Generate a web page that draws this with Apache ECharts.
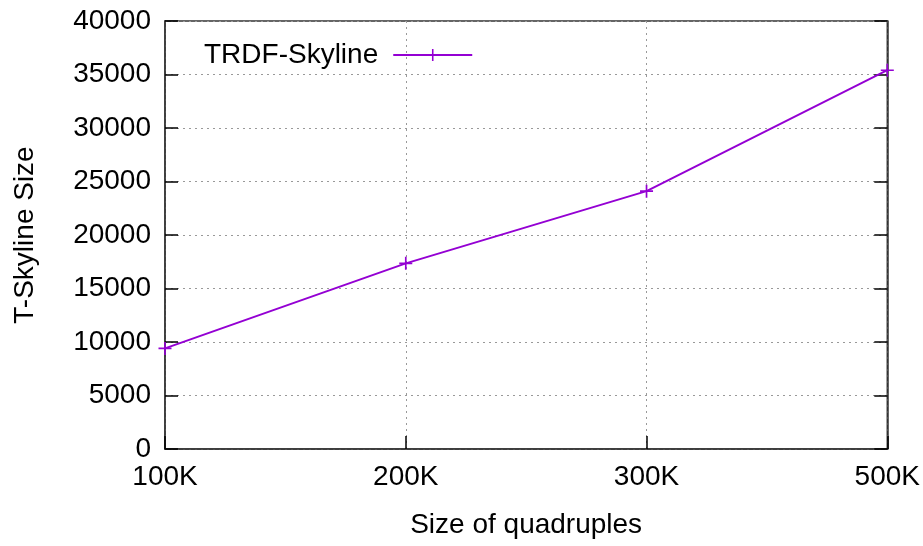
<!DOCTYPE html>
<html>
<head>
<meta charset="utf-8">
<script src="https://cdn.jsdelivr.net/npm/echarts@6/dist/echarts.min.js"></script>
<style>
  html, body { margin: 0; padding: 0; background: #fff; }
  #chart { width: 923px; height: 546px; }
</style>
</head>
<body>
<div id="chart"></div>
<script>
// data
const sizes = ['100K', '200K', '300K', '500K']
const skylineSize = [9400, 17350, 24100, 35400]
const seriesName = 'TRDF-Skyline'

const FONT = 'Liberation Sans, Arial, sans-serif'
const lineColor = '#9400D3'

const chart = echarts.init(document.getElementById('chart'))

// plus shaped marker, like gnuplot's point type 1
const plusSymbol = 'path://M4.35,0h1.3v10h-1.3z M0,4.35h10v1.3h-10z'

chart.setOption({
  animation: false,
  textStyle: { fontFamily: FONT },
  grid: {
    left: 165,
    right: 35,
    top: 21,
    bottom: 97,
    show: true,
    borderColor: '#333',
    borderWidth: 1.5
  },
  legend: {
    left: 199,
    top: 36,
    align: 'right',
    itemWidth: 79,
    itemHeight: 15,
    textStyle: { fontSize: 28, color: '#000', fontFamily: FONT, padding: [0, 10, 0, 0] },
    data: [seriesName]
  },
  xAxis: {
    type: 'category',
    data: sizes,
    boundaryGap: false,
    name: 'Size of quadruples',
    nameLocation: 'middle',
    nameGap: 62,
    nameTextStyle: { fontSize: 28, color: '#000' },
    axisLine: { lineStyle: { color: '#333', width: 1.5 } },
    axisTick: { inside: true, length: 13, lineStyle: { color: '#000', width: 1.5 } },
    axisLabel: { fontSize: 28, color: '#000', margin: 14 },
    splitLine: { show: true, lineStyle: { type: [2, 4], color: '#999', width: 1 } }
  },
  yAxis: [
    {
      type: 'value',
      min: 0,
      max: 40000,
      interval: 5000,
      name: 'T-Skyline Size',
      nameLocation: 'middle',
      nameGap: 126,
      nameTextStyle: { fontSize: 28, color: '#000' },
      axisLine: { show: true, lineStyle: { color: '#333', width: 1.5 } },
      axisTick: { show: true, inside: true, length: 13, lineStyle: { color: '#000', width: 1.5 } },
      axisLabel: { fontSize: 28, color: '#000', margin: 14, formatter: v => String(v) },
      splitLine: { show: true, lineStyle: { type: [2, 4], color: '#999', width: 1 } }
    },
    {
      type: 'value',
      position: 'right',
      min: 0,
      max: 40000,
      interval: 5000,
      axisLine: { show: true, lineStyle: { color: '#333', width: 1.5 } },
      axisTick: { show: true, inside: true, length: 13, lineStyle: { color: '#000', width: 1.5 } },
      axisLabel: { show: false },
      splitLine: { show: false }
    }
  ],
  series: [{
    name: seriesName,
    type: 'line',
    data: skylineSize,
    symbol: plusSymbol,
    symbolSize: 13,
    color: lineColor,
    lineStyle: { color: lineColor, width: 2 },
    itemStyle: { color: lineColor }
  }]
})
</script>
</body>
</html>
